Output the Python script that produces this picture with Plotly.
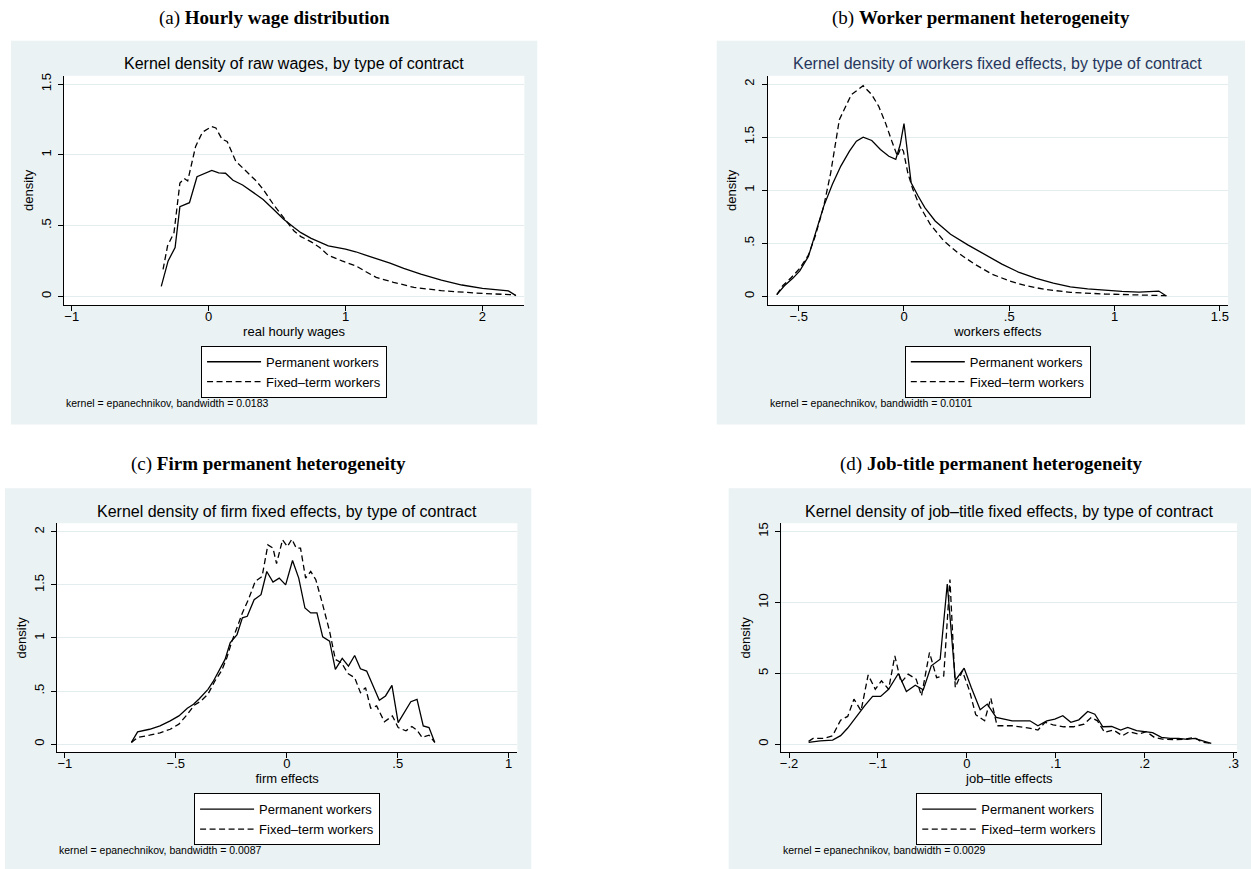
import plotly.graph_objects as go

# ---------------- data ----------------
wage_perm_x = [-0.346, -0.296, -0.245, -0.21, -0.14, -0.085, 0.023, 0.073, 0.123, 0.178, 0.248, 0.323,
               0.398, 0.473, 0.548, 0.624, 0.674, 0.749, 0.824, 0.874, 1.0, 1.074, 1.174, 1.325, 1.425,
               1.55, 1.70, 1.85, 2.0, 2.19, 2.245]
wage_perm_y = [0.07, 0.25, 0.345, 0.634, 0.662, 0.845, 0.89, 0.873, 0.87, 0.82, 0.787, 0.737,
               0.685, 0.615, 0.545, 0.486, 0.45, 0.41, 0.38, 0.357, 0.333, 0.315, 0.282, 0.235, 0.197,
               0.157, 0.115, 0.08, 0.056, 0.038, 0.005]
wage_fixed_x = [-0.333, -0.30, -0.253, -0.21, -0.178, -0.153, -0.095, -0.045, 0.023, 0.053, 0.098, 0.135,
                0.198, 0.273, 0.348, 0.398, 0.473, 0.548, 0.624, 0.674, 0.749, 0.811, 0.874, 0.974, 1.074,
                1.149, 1.224, 1.35, 1.50, 1.70, 1.95, 2.24]
wage_fixed_y = [0.19, 0.357, 0.45, 0.80, 0.833, 0.815, 1.06, 1.16, 1.20, 1.19, 1.11, 1.095,
                0.955, 0.885, 0.815, 0.756, 0.65, 0.556, 0.462, 0.422, 0.385, 0.345, 0.29, 0.25, 0.216,
                0.174, 0.134, 0.099, 0.063, 0.04, 0.023, 0.01]

worker_perm_x = [-0.604, -0.568, -0.527, -0.495, -0.454, -0.421, -0.381, -0.34, -0.30, -0.259, -0.226,
                 -0.194, -0.153, -0.112, -0.072, -0.039, -0.018, 0.0, 0.013, 0.034, 0.067, 0.099, 0.148,
                 0.221, 0.303, 0.384, 0.465, 0.547, 0.628, 0.709, 0.79, 0.872, 0.953, 1.035, 1.116,
                 1.21, 1.246]
worker_perm_y = [0.016, 0.10, 0.172, 0.24, 0.376, 0.60, 0.85, 1.055, 1.227, 1.368, 1.462,
                 1.50, 1.468, 1.383, 1.32, 1.29, 1.43, 1.628, 1.415, 1.07, 0.945, 0.836, 0.71,
                 0.585, 0.485, 0.398, 0.304, 0.225, 0.17, 0.125, 0.09, 0.07, 0.056, 0.047, 0.04,
                 0.05, 0.003]
worker_fixed_x = [-0.604, -0.576, -0.535, -0.495, -0.454, -0.421, -0.381, -0.348, -0.307, -0.25, -0.194,
                  -0.153, -0.12, -0.088, -0.055, -0.031, -0.015, -0.003, 0.018, 0.042, 0.075, 0.124,
                  0.189, 0.254, 0.335, 0.417, 0.498, 0.579, 0.677, 0.791, 0.953, 1.116, 1.246]
worker_fixed_y = [0.016, 0.10, 0.178, 0.263, 0.388, 0.57, 0.85, 1.164, 1.665, 1.90, 1.984,
                  1.90, 1.79, 1.634, 1.446, 1.32, 1.40, 1.37, 1.164, 1.008, 0.85, 0.68,
                  0.523, 0.413, 0.304, 0.21, 0.147, 0.10, 0.063, 0.038, 0.022, 0.016, 0.006]

firm_perm_x = [-0.70, -0.672, -0.618, -0.571, -0.525, -0.486, -0.448, -0.42, -0.394, -0.355, -0.332,
               -0.309, -0.278, -0.255, -0.224, -0.20, -0.178, -0.147, -0.116, -0.09, -0.062, -0.034,
               -0.005, 0.026, 0.054, 0.082, 0.108, 0.136, 0.162, 0.193, 0.219, 0.25, 0.278, 0.306,
               0.332, 0.36, 0.386, 0.417, 0.445, 0.474, 0.502, 0.528, 0.559, 0.587, 0.615, 0.641, 0.667]
firm_perm_y = [0.016, 0.116, 0.14, 0.172, 0.219, 0.266, 0.338, 0.375, 0.428, 0.516, 0.588,
               0.672, 0.798, 0.954, 1.032, 1.19, 1.204, 1.36, 1.408, 1.626, 1.526, 1.564,
               1.50, 1.73, 1.564, 1.282, 1.236, 1.236, 1.01, 0.97, 0.704, 0.807, 0.735, 0.835,
               0.71, 0.688, 0.563, 0.413, 0.454, 0.554, 0.203, 0.288, 0.40, 0.422, 0.172, 0.156, 0.016]
firm_fixed_x = [-0.70, -0.672, -0.618, -0.571, -0.525, -0.486, -0.448, -0.417, -0.386, -0.355, -0.324,
                -0.293, -0.27, -0.247, -0.219, -0.20, -0.173, -0.142, -0.111, -0.085, -0.062, -0.046,
                -0.019, 0.003, 0.023, 0.043, 0.062, 0.085, 0.108, 0.131, 0.162, 0.193, 0.219, 0.247,
                0.275, 0.306, 0.332, 0.355, 0.378, 0.405, 0.44, 0.476, 0.502, 0.537, 0.564, 0.587,
                0.61, 0.641, 0.667]
firm_fixed_y = [0.016, 0.063, 0.084, 0.106, 0.14, 0.188, 0.28, 0.366, 0.407, 0.47, 0.594,
                0.694, 0.813, 0.97, 1.126, 1.236, 1.36, 1.533, 1.58, 1.877, 1.846, 1.70,
                1.924, 1.861, 1.93, 1.846, 1.846, 1.564, 1.626, 1.548, 1.314, 1.063, 0.798, 0.766,
                0.666, 0.626, 0.485, 0.532, 0.338, 0.36, 0.21, 0.266, 0.156, 0.125, 0.166, 0.131,
                0.063, 0.084, 0.016]

job_perm_x = [-0.178, -0.165, -0.151, -0.142, -0.134, -0.125, -0.115, -0.106, -0.097, -0.088, -0.077,
              -0.068, -0.058, -0.049, -0.04, -0.030, -0.022, -0.013, -0.003, 0.005, 0.015, 0.023,
              0.033, 0.051, 0.071, 0.08, 0.09, 0.099, 0.108, 0.117, 0.126, 0.136, 0.144, 0.153,
              0.163, 0.173, 0.181, 0.191, 0.201, 0.209, 0.219, 0.229, 0.238, 0.248, 0.256, 0.266, 0.275]
job_perm_y = [0.12, 0.23, 0.28, 0.59, 1.13, 1.88, 2.70, 3.36, 3.36, 3.87, 4.98,
              3.71, 4.15, 3.83, 5.52, 5.99, 11.3, 4.5, 5.35, 3.99, 2.42, 2.82,
              1.88, 1.64, 1.64, 1.29, 1.64, 1.76, 2.0, 1.53, 1.71, 2.30, 2.11, 1.22,
              1.24, 0.99, 1.17, 0.94, 0.87, 0.80, 0.47, 0.40, 0.40, 0.33, 0.40, 0.23, 0.05]
job_fixed_x = [-0.178, -0.173, -0.161, -0.151, -0.142, -0.134, -0.127, -0.119, -0.111, -0.103, -0.096,
               -0.088, -0.081, -0.074, -0.066, -0.057, -0.051, -0.042, -0.034, -0.026, -0.019, -0.013,
               -0.005, 0.003, 0.010, 0.020, 0.027, 0.034, 0.051, 0.070, 0.08, 0.088, 0.097, 0.109,
               0.12, 0.132, 0.14, 0.147, 0.155, 0.165, 0.175, 0.183, 0.193, 0.202, 0.211, 0.220,
               0.232, 0.244, 0.256, 0.265, 0.275]
job_fixed_y = [0.19, 0.40, 0.40, 0.59, 1.69, 1.95, 3.17, 2.35, 4.88, 3.87, 4.46,
               3.87, 6.22, 4.34, 4.93, 4.58, 3.40, 6.46, 4.69, 4.81, 11.62, 3.99,
               5.16, 3.76, 2.07, 1.64, 3.24, 1.29, 1.29, 1.13, 0.99, 1.53, 1.36, 1.22,
               1.22, 1.41, 1.88, 1.64, 0.82, 0.99, 0.59, 0.87, 0.70, 0.87, 0.47, 0.35,
               0.31, 0.33, 0.47, 0.12, 0.05]

series_names = ["Permanent workers", "Fixed\u2013term workers"]

captions = ["(a) <b>Hourly wage distribution</b>", "(b) <b>Worker permanent heterogeneity</b>",
            "(c) <b>Firm permanent heterogeneity</b>", "(d) <b>Job-title permanent heterogeneity</b>"]
chart_titles = ["Kernel density of raw wages, by type of contract",
                "Kernel density of workers fixed effects, by type of contract",
                "Kernel density of firm fixed effects, by type of contract",
                "Kernel density of job\u2013title fixed effects, by type of contract"]
x_titles = ["real hourly wages", "workers effects", "firm effects", "job\u2013title effects"]
notes = ["kernel = epanechnikov, bandwidth = 0.0183", "kernel = epanechnikov, bandwidth = 0.0101",
         "kernel = epanechnikov, bandwidth = 0.0087", "kernel = epanechnikov, bandwidth = 0.0029"]

x_tickvals = [[-1, 0, 1, 2], [-0.5, 0, 0.5, 1, 1.5], [-1, -0.5, 0, 0.5, 1], [-0.2, -0.1, 0, 0.1, 0.2, 0.3]]
x_ticktext = [["\u22121", "0", "1", "2"], ["\u2212.5", "0", ".5", "1", "1.5"],
              ["\u22121", "\u2212.5", "0", ".5", "1"], ["\u2212.2", "\u2212.1", "0", ".1", ".2", ".3"]]
y_tickvals = [[0, 0.5, 1, 1.5], [0, 0.5, 1, 1.5, 2], [0, 0.5, 1, 1.5, 2], [0, 5, 10, 15]]
y_ticktext = [["0", ".5", "1", "1.5"], ["0", ".5", "1", "1.5", "2"], ["0", ".5", "1", "1.5", "2"],
              ["0", "5", "10", "15"]]

# ---------------- layout (pixel geometry) ----------------
W, H = 1251, 869
FONT = "Liberation Sans, Arial, sans-serif"
SERIF = "Liberation Serif, Times New Roman, serif"
BG = "#EAF2F3"
ROW2 = 449

def fx(p):
    return p / W

def fy(p):
    return 1 - p / H

panels = [
    dict(bg=(9, 38, 537, 423), plot=(62, 73, 524, 303), xr=[-1.058, 2.306], yr=[-0.061, 1.559],
         cap_y=15, title_col="black",
         data=(wage_perm_x, wage_perm_y, wage_fixed_x, wage_fixed_y)),
    dict(bg=(717, 38, 1247, 423), plot=(768, 73, 1230, 303), xr=[-0.648, 1.539], yr=[-0.081, 2.078],
         cap_y=15, title_col="#26365c",
         data=(worker_perm_x, worker_perm_y, worker_fixed_x, worker_fixed_y)),
    dict(bg=(3, 38 + ROW2, 531, 875), plot=(55, 73 + ROW2, 517, 303 + ROW2), xr=[-1.036, 1.039],
         yr=[-0.078, 2.081], cap_y=14 + ROW2, title_col="black",
         data=(firm_perm_x, firm_perm_y, firm_fixed_x, firm_fixed_y)),
    dict(bg=(729, 38 + ROW2, 1255, 875), plot=(782, 73 + ROW2, 1239, 303 + ROW2), xr=[-0.2085, 0.304],
         yr=[-0.59, 15.59], cap_y=14 + ROW2, title_col="black",
         data=(job_perm_x, job_perm_y, job_fixed_x, job_fixed_y)),
]

fig = go.Figure()
shapes = []
annotations = []
legend_keys = ["legend", "legend2", "legend3", "legend4"]
layout_extra = {}

for i, p in enumerate(panels):
    n = "" if i == 0 else str(i + 1)
    xa, ya = "x" + n, "y" + n
    x0, y0, x1, y1 = p["plot"]
    bx0, by0, bx1, by1 = p["bg"]
    px_, py_, fx_, fy_ = p["data"]
    leg = legend_keys[i]

    fig.add_trace(go.Scatter(x=px_, y=py_, mode="lines", name=series_names[0],
                             line=dict(color="black", width=1.3), xaxis=xa, yaxis=ya, legend=leg))
    fig.add_trace(go.Scatter(x=fx_, y=fy_, mode="lines", name=series_names[1],
                             line=dict(color="black", width=1.3, dash="6px,3.5px"),
                             xaxis=xa, yaxis=ya, legend=leg))

    axfont = dict(family=FONT, size=13, color="black")
    layout_extra["xaxis" + n] = dict(
        domain=[fx(x0), fx(x1)], anchor=ya, range=p["xr"], showgrid=False, zeroline=False,
        showline=True, linecolor="black", linewidth=1, ticks="outside", ticklen=5,
        tickcolor="black", tickwidth=1, tickvals=x_tickvals[i], ticktext=x_ticktext[i],
        ticklabelstandoff=-6,
        tickfont=axfont, title=dict(text=x_titles[i], font=axfont, standoff=3))
    layout_extra["yaxis" + n] = dict(
        domain=[fy(y1), fy(y0)], anchor=xa, range=p["yr"], showgrid=True, gridcolor="#E3ECEE",
        gridwidth=1, zeroline=False, showline=True, linecolor="black", linewidth=1,
        ticks="outside", ticklen=5, tickcolor="black", tickwidth=1, tickangle=-90,
        ticklabelstandoff=2,
        tickvals=y_tickvals[i], ticktext=y_ticktext[i], tickfont=axfont,
        title=dict(text="density", font=axfont, standoff=2))

    layout_extra[leg] = dict(
        x=fx((x0 + x1) / 2), y=fy(y1 + 41), xanchor="center", yanchor="top",
        bgcolor="white", bordercolor="black", borderwidth=1,
        font=dict(family=FONT, size=13, color="black"), itemwidth=54, tracegroupgap=0,
        traceorder="normal")

    shapes.append(dict(type="rect", xref="paper", yref="paper", x0=fx(bx0), x1=fx(bx1),
                       y0=fy(by1), y1=fy(by0), fillcolor=BG, line=dict(width=0), layer="below"))
    shapes.append(dict(type="rect", xref=xa + " domain", yref=ya + " domain", x0=0, x1=1, y0=0, y1=1,
                       fillcolor="white", line=dict(width=0), layer="below"))

    annotations.append(dict(text=captions[i], x=fx((bx0 + bx1) / 2), y=fy(p["cap_y"]), xref="paper",
                            yref="paper", showarrow=False, xanchor="center", yanchor="middle",
                            font=dict(family=SERIF, size=19, color="black")))
    annotations.append(dict(text=chart_titles[i], x=fx((x0 + x1) / 2), y=fy(y0 - 12), xref="paper",
                            yref="paper", showarrow=False, xanchor="center", yanchor="middle",
                            font=dict(family=FONT, size=16, color=p["title_col"])))
    annotations.append(dict(text=notes[i], x=fx(x0), y=fy(y1 + 98), xref="paper", yref="paper",
                            showarrow=False, xanchor="left", yanchor="middle",
                            font=dict(family=FONT, size=10.5, color="black")))

fig.update_layout(
    width=W, height=H, autosize=False, margin=dict(l=0, r=0, t=0, b=0),
    paper_bgcolor="white", plot_bgcolor="white", showlegend=True,
    shapes=shapes, annotations=annotations, **layout_extra)

fig.write_html("out.html", config={"displayModeBar": False},
               post_script="document.body.style.margin='0px';document.body.style.overflow='hidden';")
